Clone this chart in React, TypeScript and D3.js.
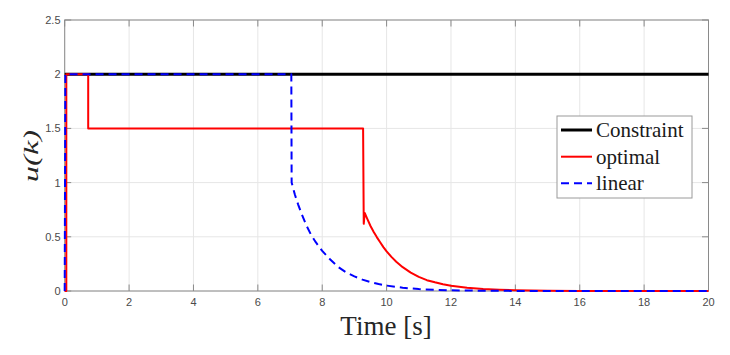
import React from "react";
import * as d3 from "d3";

const xTicks = [0, 2, 4, 6, 8, 10, 12, 14, 16, 18, 20];
const yTicks = [0, 0.5, 1, 1.5, 2, 2.5];
const yTickLabels = ["0", "0.5", "1", "1.5", "2", "2.5"];

const constraintT = [0, 20];
const constraintU = [2, 2];

const optimalT = [0, 0.05, 0.05, 0.73, 0.73, 9.27, 9.29, 9.32, 9.4, 9.5, 9.6, 9.7, 9.8, 9.9, 10, 10.15, 10.3, 10.5, 10.75, 11, 11.25, 11.5, 11.75, 12, 12.5, 13, 13.5, 14, 15, 16, 18, 20];
const optimalU = [0, 0, 2, 2, 1.5, 1.5, 0.62, 0.72, 0.665, 0.6, 0.545, 0.495, 0.45, 0.405, 0.365, 0.315, 0.27, 0.22, 0.17, 0.13, 0.1, 0.08, 0.062, 0.048, 0.03, 0.018, 0.011, 0.007, 0.003, 0.001, 0, 0];

const linearT = [0, 0.02, 7.04, 7.05, 7.15, 7.25, 7.35, 7.5, 7.65, 7.8, 8, 8.25, 8.5, 8.75, 9, 9.25, 9.5, 9.75, 10, 10.5, 11, 11.5, 12, 13, 14, 16, 20];
const linearU = [0, 2, 2, 1.0, 0.89, 0.8, 0.72, 0.61, 0.52, 0.45, 0.37, 0.29, 0.22, 0.17, 0.135, 0.105, 0.082, 0.064, 0.05, 0.03, 0.018, 0.011, 0.007, 0.002, 0.001, 0, 0];

const legendLabels = ["Constraint", "optimal", "linear"];

const W = 730, H = 355;
const left = 64.7, right = 708.5, top = 20, bottom = 291;

export default function App() {
  const x = d3.scaleLinear().domain([0, 20]).range([left, right]);
  const y = d3.scaleLinear().domain([0, 2.5]).range([bottom, top]);
  const line = (ts: number[], us: number[]) =>
    d3.line<number>().x((_, i) => x(ts[i])).y((_, i) => y(us[i]))(ts.map((_, i) => i)) || "";

  const axisColor = "#8a8a8a";
  const gridColor = "#e6e6e6";
  const tickLen = 6.5;
  const sans = "'Liberation Sans', Arial, sans-serif";
  const serif = "'Liberation Serif', 'Times New Roman', serif";

  const styles = [
    { color: "#000000", width: 3, dash: undefined as string | undefined },
    { color: "#ff0000", width: 2, dash: undefined },
    { color: "#0000ff", width: 2, dash: "8,5" },
  ];
  const series = [
    line(constraintT, constraintU),
    line(optimalT, optimalU),
    line(linearT, linearU),
  ];

  const lgX = 557, lgY = 116, lgW = 135, lgH = 82;
  const lgRows = [130, 156.7, 183.3];

  return (
    <svg width={W} height={H} style={{ position: "absolute", left: 0, top: 0, background: "#fff" }}>
      <rect x={0} y={0} width={W} height={H} fill="#fff" />
      {xTicks.map((t) => (
        <line key={"gx" + t} x1={x(t)} x2={x(t)} y1={top} y2={bottom} stroke={gridColor} strokeWidth={1} />
      ))}
      {yTicks.map((t) => (
        <line key={"gy" + t} x1={left} x2={right} y1={y(t)} y2={y(t)} stroke={gridColor} strokeWidth={1} />
      ))}
      <rect x={left} y={top} width={right - left} height={bottom - top} fill="none" stroke={axisColor} strokeWidth={1} />
      {xTicks.map((t) => (
        <g key={"tx" + t}>
          <line x1={x(t)} x2={x(t)} y1={bottom} y2={bottom - tickLen} stroke={axisColor} />
          <line x1={x(t)} x2={x(t)} y1={top} y2={top + tickLen} stroke={axisColor} />
          <text x={x(t)} y={305.5} textAnchor="middle" fontFamily={sans} fontSize={11} fill="#4a4a4a">{t}</text>
        </g>
      ))}
      {yTicks.map((t, i) => (
        <g key={"ty" + t}>
          <line x1={left} x2={left + tickLen} y1={y(t)} y2={y(t)} stroke={axisColor} />
          <line x1={right} x2={right - tickLen} y1={y(t)} y2={y(t)} stroke={axisColor} />
          <text x={60.5} y={y(t) + 4} textAnchor="end" fontFamily={sans} fontSize={11} fill="#4a4a4a">{yTickLabels[i]}</text>
        </g>
      ))}
      {series.map((d, i) => (
        <path key={"s" + i} d={d} fill="none" stroke={styles[i].color} strokeWidth={styles[i].width}
          strokeDasharray={styles[i].dash} strokeLinejoin="round" />
      ))}
      <text x={386} y={335} textAnchor="middle" fontFamily={serif} fontSize={27} fill="#262626">Time [s]</text>
      <g transform={`translate(38,156) rotate(-90) scale(1.55,1)`}>
        <text x={0} y={0} textAnchor="middle" fontFamily={serif} fontStyle="italic" fontSize={21} fill="#262626">u(k)</text>
      </g>
      <rect x={lgX} y={lgY} width={lgW} height={lgH} fill="#fff" stroke="#9a9a9a" strokeWidth={1} />
      {legendLabels.map((lab, i) => (
        <g key={"lg" + i}>
          <line x1={561} x2={592} y1={lgRows[i]} y2={lgRows[i]} stroke={styles[i].color} strokeWidth={styles[i].width}
            strokeDasharray={styles[i].dash} />
          <text x={596} y={lgRows[i] + 7} fontFamily={serif} fontSize={21} fill="#1a1a1a">{lab}</text>
        </g>
      ))}
    </svg>
  );
}
